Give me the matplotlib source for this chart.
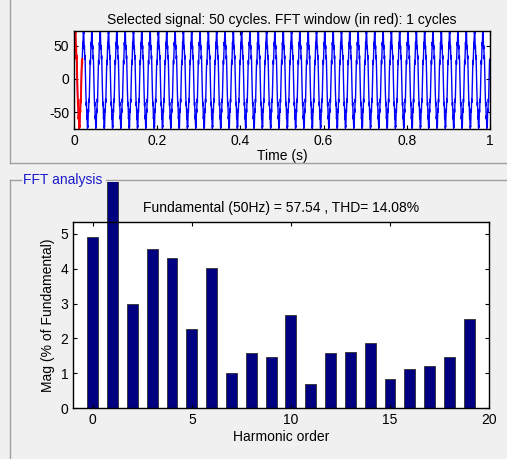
import numpy as np
import matplotlib
matplotlib.use("Agg")
import matplotlib.pyplot as plt
from matplotlib.patches import Rectangle
from matplotlib.lines import Line2D

plt.rcParams['font.family'] = ['Liberation Sans', 'DejaVu Sans']
plt.rcParams['axes.unicode_minus'] = False

cycle = [30, 42, 55, 50, 62, 72, 68, 70, 60, 45, 50, 40, 30, 35, 20, 5,
         -8, -20, -30, -40, -35, -48, -60, -55, -68, -74, -70, -72, -60, -45,
         -50, -40, -30, -35, -20, -5, 8, 18, 28, 22]
n_cycles = 50
fft_cycles = 1

# harmonic spectrum (% of fundamental); order 1 is the fundamental itself
orders = list(range(20))
mags = [4.90, 100.0, 3.00, 4.57, 4.30, 2.26, 4.01, 1.01, 1.57, 1.45,
        2.66, 0.70, 1.57, 1.62, 1.88, 0.84, 1.13, 1.22, 1.45, 2.55]

title_top = 'Selected signal: 50 cycles. FFT window (in red): 1 cycles'
title_fft = 'Fundamental (50Hz) = 57.54 , THD= 14.08%'

W, H = 507, 459
bg = '#f0f0f0'
fs = 10
fig = plt.figure(figsize=(W / 100, H / 100), dpi=100, facecolor=bg)

def fx(px):
    return px / W

def fy(py):
    return 1 - py / H

# panel frames
frame_col = '#a0a0a0'
fig.add_artist(Line2D([fx(10), fx(10)], [fy(0), fy(163)], color=frame_col, lw=1))
fig.add_artist(Line2D([fx(10), fx(507)], [fy(163), fy(163)], color=frame_col, lw=1))
fig.add_artist(Line2D([fx(10), fx(10)], [fy(180), fy(459)], color=frame_col, lw=1))
fig.add_artist(Line2D([fx(10), fx(21)], [fy(180), fy(180)], color=frame_col, lw=1))
fig.add_artist(Line2D([fx(106), fx(507)], [fy(180), fy(180)], color=frame_col, lw=1))
fig.text(fx(23), fy(180), 'FFT analysis', color='#1a1acc', fontsize=fs,
         va='center', ha='left')

# ---- top: time signal
sig = np.tile(cycle, n_cycles)
sig = np.append(sig, cycle[0])
t = np.arange(len(sig)) * 0.02 / len(cycle)
nwin = fft_cycles * len(cycle) + 1

ax1 = fig.add_axes([fx(74), fy(129), fx(416), 98 / H])
ax1.plot(t, sig, color='#0000ff', lw=1.0)
ax1.plot(t[:nwin], sig[:nwin], color='#ff0000', lw=1.4)
ax1.set_xlim(0, 1)
ax1.set_ylim(-75, 72)
ax1.set_yticks([-50, 0, 50])
ax1.set_xticks([0, 0.2, 0.4, 0.6, 0.8, 1])
ax1.set_xticklabels(['0', '0.2', '0.4', '0.6', '0.8', '1'])
ax1.set_xlabel('Time (s)', fontsize=fs, labelpad=1)
ax1.set_title(title_top, fontsize=fs, pad=5)

# ---- bottom: FFT bars
ax2 = fig.add_axes([fx(73), fy(408), fx(416), 186 / H])
bars = ax2.bar(orders, mags, width=0.55, color='#000080', edgecolor='#303030',
               linewidth=0.6)
clip = Rectangle((0, 0), 1, fy(182), transform=fig.transFigure,
                 facecolor='none', edgecolor='none')
for b in bars:
    b.set_clip_on(True)
    b.set_clip_path(clip)
ax2.set_xlim(-1, 20)
ax2.set_ylim(0, 5.34)
ax2.set_xticks([0, 5, 10, 15, 20])
ax2.set_yticks([0, 1, 2, 3, 4, 5])
ax2.set_xlabel('Harmonic order', fontsize=fs, labelpad=2)
ax2.set_ylabel('Mag (% of Fundamental)', fontsize=fs, labelpad=4)
ax2.set_title(title_fft, fontsize=fs, pad=7)

for ax in (ax1, ax2):
    ax.set_facecolor('white')
    ax.tick_params(direction='in', length=3, top=True, right=True,
                   labelsize=fs, width=0.8)
    for s in ax.spines.values():
        s.set_linewidth(1.0)

fig.savefig('out.png', dpi=100, facecolor=bg)
